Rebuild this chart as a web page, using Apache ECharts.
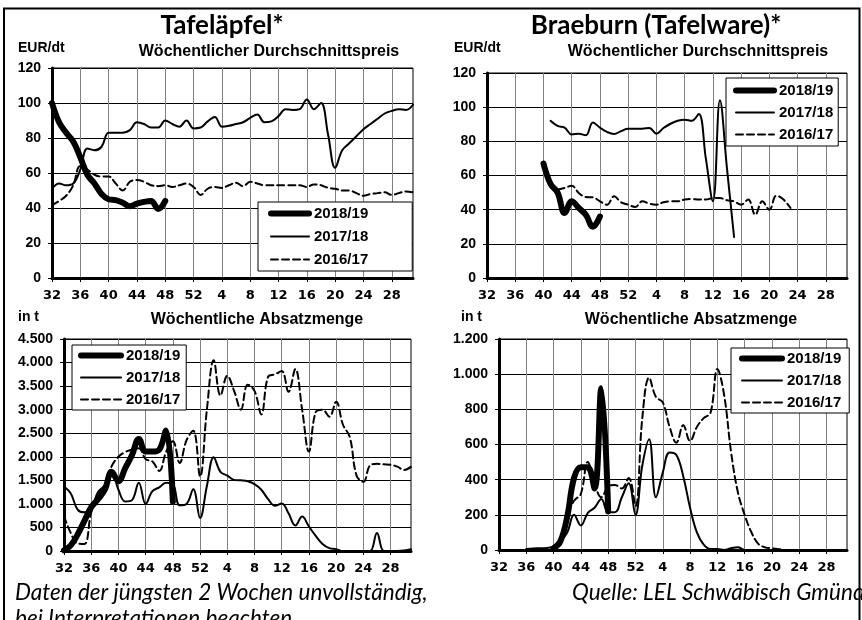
<!DOCTYPE html>
<html><head><meta charset="utf-8">
<script src="https://cdn.jsdelivr.net/npm/echarts@6/dist/echarts.min.js"></script>
<style>html,body{margin:0;padding:0;background:#fff}#c{width:862px;height:620px}</style>
</head><body><div id="c"></div>
<script>
// Kalenderwochen (Saison Woche 32 bis Woche 31 des Folgejahres)
const weeks = ["32","33","34","35","36","37","38","39","40","41","42","43","44","45","46","47","48","49","50","51","52",
  "1","2","3","4","5","6","7","8","9","10","11","12","13","14","15","16","17","18","19","20","21","22","23","24","25","26","27","28","29","30","31"];
const seasons = ["2018/19", "2017/18", "2016/17"];

// Tafeläpfel – Wöchentlicher Durchschnittspreis (EUR/dt)
const preisTafel1819 = [100,89,83,78,69,59,54,48,45,44.5,43,41,42.5,43.5,44,39.5,44,
  null,null,null,null,null,null,null,null,null,null,null,null,null,null,null,null,null,null,null,null,null,null,null,null,null,null,null,null,null,null,null,null,null,null,null];
const preisTafel1718 = [51,54,53,54,62,74,73,75,83,83,83,84.5,89,88,86,86,90,88,86.5,90,85.5,
  86,89.5,92,86.5,87,88,89,91.5,93.5,89,89.5,92.5,96.5,96,96.5,102,96.5,100,82,63,73,77,81,85,88,91,94,95.5,96.5,96,99];
const preisTafel1617 = [41.5,44,47,53,64,62,59,58,58,54,50,55,56,55,53,52.5,53,52,53,54,52,
  47.5,51,52,51.5,53,54.5,52.5,55,54,53,53,53,53,53,53,52,53.5,53,51.5,51,50,50,48.5,47,48,48.5,49,47.5,48.5,49.5,49];

// Braeburn – Wöchentlicher Durchschnittspreis (EUR/dt)
const preisBrae1819 = [null,null,null,null,null,null,null,null,67,55,50,38,45,41,37,30,36,
  null,null,null,null,null,null,null,null,null,null,null,null,null,null,null,null,null,null,null,null,null,null,null,null,null,null,null,null,null,null,null,null,null,null,null];
const preisBrae1718 = [null,null,null,null,null,null,null,null,null,92,89,88,84,84.5,83.5,91,88,85.5,84.3,86,87.4,
  87.4,87.4,87.8,84.5,87.8,90.3,92,92.7,92,96,70,45,104,64,24,
  null,null,null,null,null,null,null,null,null,null,null,null,null,null,null,null];
const preisBrae1617 = [null,null,null,null,null,null,null,null,null,null,51.7,52.7,54,49.8,47.4,47.2,44.9,42.9,47.8,44.3,42.9,
  41.6,44.9,43.5,42.9,44.3,44.9,44.9,45.9,46.2,45.9,45.9,46.8,46.8,45.5,44.9,42.9,45.9,37,44.9,40,48.2,45.9,41,
  null,null,null,null,null,null,null,null];

// Tafeläpfel – Wöchentliche Absatzmenge (t)
const mengeTafel1819 = [15,120,350,640,930,1100,1300,1680,1480,1760,2040,2380,2110,2110,2150,2560,1050,
  null,null,null,null,null,null,null,null,null,null,null,null,null,null,null,null,null,null,null,null,null,null,null,null,null,null,null,null,null,null,null,null,null,null,null];
const mengeTafel1718 = [1370,1220,880,820,900,1250,1400,1700,1300,1050,1080,1450,1000,1270,1350,1450,1420,970,1000,1310,700,
  1380,1990,1680,1600,1510,1500,1480,1420,1300,1100,960,1010,800,540,730,520,320,150,60,40,0,0,0,0,0,380,0,0,0,10,35];
const mengeTafel1617 = [740,380,160,150,820,1200,1400,1800,2000,2100,2150,2180,1950,1900,1700,2100,2330,1870,2350,2550,1580,
  3000,4050,3300,3720,3400,3000,3530,3400,2900,3700,3750,3820,3380,3860,3000,2110,2950,3000,2850,3170,2680,2420,1600,1470,1820,1850,1840,1830,1790,1720,1790];

// Braeburn – Wöchentliche Absatzmenge (t)
const mengeBrae1819 = [null,null,null,null,null,null,null,null,10,50,190,410,470,470,350,920,220,
  null,null,null,null,null,null,null,null,null,null,null,null,null,null,null,null,null,null,null,null,null,null,null,null,null,null,null,null,null,null,null,null,null,null,null];
const mengeBrae1718 = [null,null,null,null,5,8,10,12,20,50,100,200,140,210,240,290,215,215,300,380,200,
  480,630,300,440,555,540,420,240,100,30,5,5,0,10,15,0,0,0,0,0,
  null,null,null,null,null,null,null,null,null,null,null];
const mengeBrae1617 = [null,null,null,null,null,null,null,null,null,30,200,280,320,500,380,300,360,370,350,410,250,
  750,980,870,840,700,610,710,620,700,750,780,1030,880,560,330,200,100,35,15,10,5,0,0,0,
  null,null,null,null,null,null,null];

const yPreisTicks = [0, 120, 20];
const yMengeTafelTicks = [0, 4500, 500];
const yMengeBraeTicks = [0, 1200, 200];

const LAB = 'Liberation Sans, Arial, sans-serif';
const styles = {
  "2018/19": { width: 6, type: 'solid' },
  "2017/18": { width: 2, type: 'solid' },
  "2016/17": { width: 2, type: [7, 4] }
};

function fmtThousands(v) { return String(v).replace(/\B(?=(\d{3})+(?!\d))/g, '.'); }

const grids = [
  { left: 52, top: 68, width: 361, height: 210 },
  { left: 487, top: 73, width: 360, height: 205 },
  { left: 64, top: 339, width: 347, height: 212 },
  { left: 499, top: 339, width: 348, height: 211 }
].map(g => Object.assign(g, { show: true, borderColor: '#000', borderWidth: 1, backgroundColor: '#fff' }));

function xAx(i) {
  return {
    type: 'category', gridIndex: i, data: weeks, boundaryGap: false,
    axisLine: { onZero: false, lineStyle: { color: '#000', width: 3 } },
    axisTick: { interval: 3, length: 4, lineStyle: { color: '#000', width: 1 } },
    axisLabel: { interval: 3, color: '#000', fontWeight: 'bold', fontFamily: 'DejaVu Sans', fontSize: 13, margin: 11 },
    splitLine: { show: true, interval: 3, lineStyle: { color: '#808080', width: 1 } }
  };
}
function yAx(i, t, thousands) {
  return {
    type: 'value', gridIndex: i, min: t[0], max: t[1], interval: t[2],
    axisLine: { show: true, lineStyle: { color: '#000', width: 3 } },
    axisTick: { show: true, length: 4, lineStyle: { color: '#000', width: 1 } },
    axisLabel: { color: '#000', fontWeight: 'bold', fontFamily: LAB, fontSize: 14, margin: 11,
      formatter: thousands ? fmtThousands : null },
    splitLine: { show: true, lineStyle: { color: '#000', width: 1 } }
  };
}

function seriesFor(i, arrs) {
  // draw order: 2016/17 first, 2018/19 on top
  const out = [];
  for (let k = arrs.length - 1; k >= 0; k--) {
    const name = seasons[k];
    out.push({
      name: name, type: 'line', xAxisIndex: i, yAxisIndex: i, data: arrs[k],
      symbol: 'none', smooth: 0.4, connectNulls: false, z: 3 + (2 - k),
      itemStyle: { color: '#000' },
      lineStyle: { color: '#000', width: styles[name].width, type: styles[name].type, cap: 'round', join: 'round' },
      emphasis: { disabled: true }, silent: true
    });
  }
  return out;
}

function legendAt(left, top, padding, itemWidth, itemHeight, itemGap) {
  return {
    orient: 'vertical', left: left, top: top, padding: padding,
    itemWidth: itemWidth, itemHeight: itemHeight, itemGap: itemGap,
    backgroundColor: '#fff', borderColor: '#000', borderWidth: 1, borderRadius: 0,
    selectedMode: false,
    textStyle: { color: '#000', fontWeight: 'bold', fontFamily: LAB, fontSize: 15 },
    data: seasons.map(s => ({ name: s,
      itemStyle: { color: 'rgba(0,0,0,0)', borderWidth: 0, opacity: 0 },
      lineStyle: { color: '#000', width: styles[s].width, type: styles[s].type, opacity: 1 } }))
  };
}

function txt(text, x, y, font, align) {
  return { type: 'text', x: x, y: y, silent: true, z: 100,
    style: { text: text, font: font, fill: '#000', textAlign: align || 'left', align: align || 'left',
      textVerticalAlign: 'middle', verticalAlign: 'middle' } };
}

const TITLE = 'bold 26px Lato';
const SUB = 'bold 16px "Liberation Sans"';
const UNIT = 'bold 14px "Liberation Sans"';
const FOOT = 'italic 22.5px Lato';

const option = {
  animation: false,
  backgroundColor: '#fff',
  grid: grids,
  xAxis: [xAx(0), xAx(1), xAx(2), xAx(3)],
  yAxis: [yAx(0, yPreisTicks), yAx(1, yPreisTicks), yAx(2, yMengeTafelTicks, true), yAx(3, yMengeBraeTicks, true)],
  legend: [
    legendAt(258, 202, [4, 44, 4, 10], 38, 14, 8),
    legendAt(726, 78, [5, 5, 4, 7], 38, 14, 7),
    legendAt(72, 345, [3, 6, 3, 6], 40, 12, 7),
    legendAt(731, 348, [3, 8, 3, 8], 40, 14, 7)
  ],
  series: [].concat(
    seriesFor(0, [preisTafel1819, preisTafel1718, preisTafel1617]),
    seriesFor(1, [preisBrae1819, preisBrae1718, preisBrae1617]),
    seriesFor(2, [mengeTafel1819, mengeTafel1718, mengeTafel1617]),
    seriesFor(3, [mengeBrae1819, mengeBrae1718, mengeBrae1617])
  ),
  graphic: [
    { type: 'polyline', silent: true, z: 100, shape: { points: [[4, 625], [4, 8.5], [859.5, 8.5], [859.5, 625]] },
      style: { stroke: '#000', lineWidth: 2, fill: null } },
    txt('Tafeläpfel*', 222, 26, TITLE, 'center'),
    txt('Braeburn (Tafelware)*', 656, 26, TITLE, 'center'),
    txt('EUR/dt', 18, 48, UNIT),
    txt('Wöchentlicher Durchschnittspreis', 269, 52, SUB, 'center'),
    txt('EUR/dt', 454, 48, UNIT),
    txt('Wöchentlicher Durchschnittspreis', 698, 52, SUB, 'center'),
    txt('in t', 18, 317, UNIT),
    txt('Wöchentliche Absatzmenge', 257, 320, SUB, 'center'),
    txt('in t', 461, 317, UNIT),
    txt('Wöchentliche Absatzmenge', 691, 320, SUB, 'center'),
    txt('Daten der jüngsten 2 Wochen unvollständig,', 15, 593, FOOT),
    txt('bei Interpretationen beachten', 15, 619, FOOT),
    txt('Quelle: LEL Schwäbisch Gmünd', 572, 593, FOOT)
  ]
};

const chart = echarts.init(document.getElementById('c'), null, { renderer: 'canvas', width: 862, height: 620 });
chart.setOption(option);
</script></body></html>
